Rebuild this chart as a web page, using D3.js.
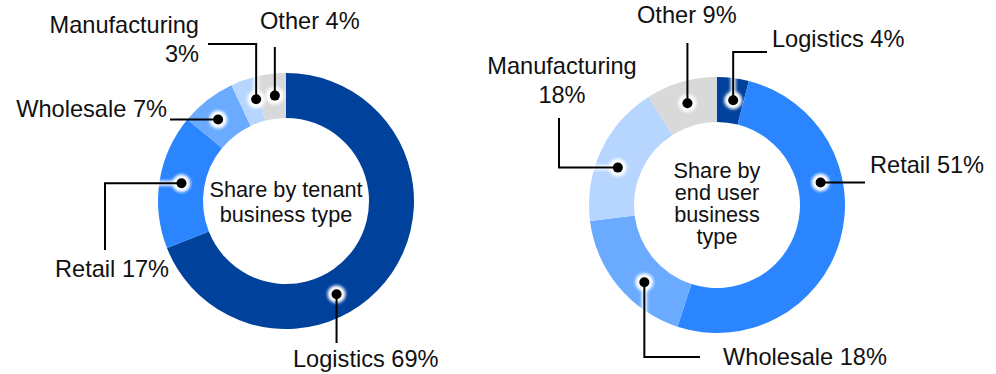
<!DOCTYPE html>
<html>
<head>
<meta charset="utf-8">
<script src="https://cdn.jsdelivr.net/npm/d3@7"></script>
<style>
  body { margin: 0; background: #fff; }
  svg { display: block; font-family: "Liberation Sans", Arial, sans-serif; }
</style>
</head>
<body>
<div id="chart"></div>
<script>
// data
const categories = ["Logistics", "Retail", "Wholesale", "Manufacturing", "Other"];
const tenantShare = [69, 17, 7, 3, 4];
const endUserShare = [4, 51, 18, 18, 9];
const tenantTitle = ["Share by tenant", "business type"];
const endUserTitle = ["Share by", "end user", "business", "type"];

const palette = ["#00419c", "#2a85ff", "#6aabff", "#b6d6ff", "#d9d9d9"];

const width = 996, height = 374;
const outerR = 128, innerR = 83, dotR = 106;

// label layout: t = where in the slice the dot sits, path = elbow steps, text position
const tenantLabels = [
  { t: 0.61, path: [["y", 343]], x: 293, y: 367, anchor: "start" },
  { t: 0.51, path: [["x", 105], ["y", 250]], x: 55, y: 277, anchor: "start" },
  { t: 0.42, path: [["x", 170]], x: 167, y: 117, anchor: "end" },
  { t: 0.82, path: [["y", 44], ["x", 208]], x: 199, y: 33, anchor: "end", split: true },
  { t: 0.58, path: [["y", 47]], x: 260, y: 29, anchor: "start" }
];
const endUserLabels = [
  { t: 0.61, path: [["y", 52], ["x", 767]], x: 772, y: 47, anchor: "start" },
  { t: 0.345, path: [["x", 865]], x: 870, y: 173, anchor: "start" },
  { t: 0.39, path: [["y", 357], ["x", 700]], x: 723, y: 365, anchor: "start" },
  { t: 0.43, path: [["x", 559], ["y", 118]], x: 562, y: 74, anchor: "middle", split: true },
  { t: 0.5, path: [["y", 43]], x: 637, y: 23, anchor: "start" }
];

const charts = [
  { values: tenantShare, cx: 286, cy: 201, title: tenantTitle, titleY: 197, lineH: 25, labels: tenantLabels },
  { values: endUserShare, cx: 717, cy: 205, title: endUserTitle, titleY: 177.5, lineH: 22.2, labels: endUserLabels }
];

const svg = d3.select("#chart").append("svg")
  .attr("width", width)
  .attr("height", height);

const defs = svg.append("defs");
defs.append("filter").attr("id", "glow")
  .attr("x", "-100%").attr("y", "-100%").attr("width", "300%").attr("height", "300%")
  .append("feGaussianBlur").attr("stdDeviation", 1.6);

const pie = d3.pie().sort(null).value(d => d);
const arc = d3.arc().innerRadius(innerR).outerRadius(outerR);

charts.forEach(chart => {
  const g = svg.append("g").attr("transform", `translate(${chart.cx},${chart.cy})`);
  const arcs = pie(chart.values);

  g.selectAll("path.slice")
    .data(arcs)
    .enter()
    .append("path")
    .attr("class", "slice")
    .attr("d", arc)
    .attr("fill", (d, i) => palette[i]);

  // centre title
  g.append("text")
    .attr("text-anchor", "middle")
    .attr("font-size", 21.7)
    .attr("fill", "#111")
    .selectAll("tspan")
    .data(chart.title)
    .enter()
    .append("tspan")
    .attr("x", 0)
    .attr("y", (d, i) => chart.titleY - chart.cy + i * chart.lineH)
    .text(d => d);

  // leaders and labels
  arcs.forEach((a, i) => {
    const lab = chart.labels[i];
    const ang = a.startAngle + (a.endAngle - a.startAngle) * lab.t;
    const px = chart.cx + dotR * Math.sin(ang);
    const py = chart.cy - dotR * Math.cos(ang);

    const pts = [[px, py]];
    let cur = [px, py];
    lab.path.forEach(([axis, v]) => {
      cur = axis === "x" ? [v, cur[1]] : [cur[0], v];
      pts.push(cur);
    });
    const line = d3.line()(pts);

    svg.append("path").attr("d", line)
      .attr("fill", "none").attr("stroke", "#fff").attr("stroke-width", 5)
      .attr("filter", "url(#glow)");
    svg.append("circle").attr("cx", px).attr("cy", py).attr("r", 9)
      .attr("fill", "#fff").attr("filter", "url(#glow)");
    svg.append("path").attr("d", line)
      .attr("fill", "none").attr("stroke", "#000").attr("stroke-width", 2);
    svg.append("circle").attr("cx", px).attr("cy", py).attr("r", 5)
      .attr("fill", "#000");

    const lines = lab.split
      ? [categories[i], chart.values[i] + "%"]
      : [categories[i] + " " + chart.values[i] + "%"];

    svg.append("text")
      .attr("text-anchor", lab.anchor)
      .attr("font-size", 23.6)
      .attr("fill", "#111")
      .selectAll("tspan")
      .data(lines)
      .enter()
      .append("tspan")
      .attr("x", lab.x)
      .attr("y", (d, j) => lab.y + j * 28.5)
      .text(d => d);
  });
});
</script>
</body>
</html>
